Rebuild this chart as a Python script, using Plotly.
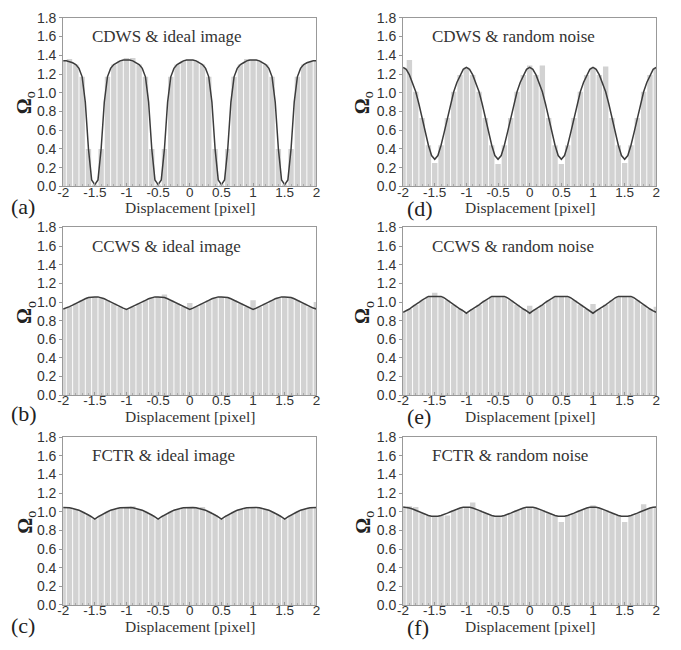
import plotly.graph_objects as go

# Displacement grid (pixel) for the curves, and bar positions
DISP = [round(-2 + 0.05 * i, 2) for i in range(81)]
BAR_X = DISP[::2]
X_TICKS = [-2, -1.5, -1, -0.5, 0, 0.5, 1, 1.5, 2]
X_TICK_TEXT = ["-2", "-1.5", "-1", "-0.5", "0", "0.5", "1", "1.5", "2"]
Y_TICKS = [0.0, 0.2, 0.4, 0.6, 0.8, 1.0, 1.2, 1.4, 1.6, 1.8]

# (a) CDWS & ideal image
LINE_A = [1.34, 1.34, 1.33, 1.32, 1.30, 1.26, 1.17, 0.90, 0.40, 0.07,
          0.02, 0.07, 0.40, 0.90, 1.17, 1.26, 1.30, 1.32, 1.34, 1.35,
          1.35, 1.35, 1.34, 1.32, 1.30, 1.26, 1.17, 0.90, 0.40, 0.07,
          0.02, 0.07, 0.40, 0.90, 1.17, 1.26, 1.30, 1.32, 1.34, 1.35,
          1.35, 1.35, 1.34, 1.32, 1.30, 1.26, 1.17, 0.90, 0.40, 0.07,
          0.02, 0.07, 0.40, 0.90, 1.17, 1.26, 1.30, 1.32, 1.34, 1.35,
          1.35, 1.35, 1.34, 1.32, 1.30, 1.26, 1.17, 0.90, 0.40, 0.07,
          0.02, 0.07, 0.40, 0.90, 1.17, 1.26, 1.30, 1.32, 1.33, 1.34,
          1.34]
BAR_OUT_A = {-1.9: 1.36, -1.0: 1.37, -0.9: 1.37, 0.9: 1.36}

# (d) CDWS & random noise
LINE_D = [1.27, 1.25, 1.19, 1.11, 1.01, 0.88, 0.73, 0.58, 0.44, 0.33,
          0.29, 0.33, 0.44, 0.58, 0.73, 0.88, 1.01, 1.11, 1.19, 1.25,
          1.27, 1.25, 1.19, 1.11, 1.01, 0.88, 0.73, 0.58, 0.44, 0.33,
          0.29, 0.33, 0.44, 0.58, 0.73, 0.88, 1.01, 1.11, 1.19, 1.25,
          1.27, 1.25, 1.19, 1.11, 1.01, 0.88, 0.73, 0.58, 0.44, 0.33,
          0.29, 0.33, 0.44, 0.58, 0.73, 0.88, 1.01, 1.11, 1.19, 1.25,
          1.27, 1.25, 1.19, 1.11, 1.01, 0.88, 0.73, 0.58, 0.44, 0.33,
          0.29, 0.33, 0.44, 0.58, 0.73, 0.88, 1.01, 1.11, 1.19, 1.25,
          1.27]
BAR_OUT_D = {-1.9: 1.35, -1.5: 0.25, -0.5: 0.24, 0.5: 0.24, 1.5: 0.25,
             0.0: 1.29, 0.2: 1.29, 1.2: 1.28}

# (b) CCWS & ideal image
LINE_B = [0.925, 0.935, 0.95, 0.967, 0.985, 1.0, 1.018, 1.035, 1.048, 1.055,
          1.055, 1.055, 1.048, 1.035, 1.018, 1.0, 0.985, 0.967, 0.95, 0.935,
          0.92, 0.935, 0.95, 0.967, 0.985, 1.0, 1.018, 1.035, 1.048, 1.055,
          1.055, 1.055, 1.048, 1.035, 1.018, 1.0, 0.985, 0.967, 0.95, 0.935,
          0.92, 0.935, 0.95, 0.967, 0.985, 1.0, 1.018, 1.035, 1.048, 1.055,
          1.055, 1.055, 1.048, 1.035, 1.018, 1.0, 0.985, 0.967, 0.95, 0.935,
          0.92, 0.935, 0.95, 0.967, 0.985, 1.0, 1.018, 1.035, 1.048, 1.055,
          1.055, 1.055, 1.048, 1.035, 1.018, 1.0, 0.985, 0.967, 0.95, 0.935,
          0.925]
BAR_OUT_B = {-0.4: 1.08, 0.0: 0.99, 1.0: 1.02, 2.0: 1.0}

# (e) CCWS & random noise
LINE_E = [0.89, 0.905, 0.925, 0.95, 0.97, 0.995, 1.02, 1.045, 1.06, 1.06,
          1.06, 1.06, 1.06, 1.045, 1.02, 0.995, 0.97, 0.95, 0.925, 0.905,
          0.88, 0.905, 0.925, 0.95, 0.97, 0.995, 1.02, 1.045, 1.06, 1.06,
          1.06, 1.06, 1.06, 1.045, 1.02, 0.995, 0.97, 0.95, 0.925, 0.905,
          0.88, 0.905, 0.925, 0.95, 0.97, 0.995, 1.02, 1.045, 1.06, 1.06,
          1.06, 1.06, 1.06, 1.045, 1.02, 0.995, 0.97, 0.95, 0.925, 0.905,
          0.88, 0.905, 0.925, 0.95, 0.97, 0.995, 1.02, 1.045, 1.06, 1.06,
          1.06, 1.06, 1.06, 1.045, 1.02, 0.995, 0.97, 0.95, 0.925, 0.905,
          0.89]
BAR_OUT_E = {-1.5: 1.10, 0.0: 0.96, 1.0: 0.98, 2.0: 0.95}

# (c) FCTR & ideal image
LINE_C = [1.045, 1.045, 1.042, 1.035, 1.027, 1.015, 1.0, 0.985, 0.965, 0.945,
          0.92, 0.945, 0.965, 0.985, 1.0, 1.015, 1.027, 1.035, 1.042, 1.045,
          1.045, 1.045, 1.042, 1.035, 1.027, 1.015, 1.0, 0.985, 0.965, 0.945,
          0.92, 0.945, 0.965, 0.985, 1.0, 1.015, 1.027, 1.035, 1.042, 1.045,
          1.045, 1.045, 1.042, 1.035, 1.027, 1.015, 1.0, 0.985, 0.965, 0.945,
          0.92, 0.945, 0.965, 0.985, 1.0, 1.015, 1.027, 1.035, 1.042, 1.045,
          1.045, 1.045, 1.042, 1.035, 1.027, 1.015, 1.0, 0.985, 0.965, 0.945,
          0.92, 0.945, 0.965, 0.985, 1.0, 1.015, 1.027, 1.035, 1.042, 1.045,
          1.045]
BAR_OUT_C = {-0.9: 1.06, 0.2: 1.05}

# (f) FCTR & random noise
LINE_F = [1.05, 1.047, 1.04, 1.03, 1.015, 1.0, 0.985, 0.97, 0.96, 0.952,
          0.95, 0.952, 0.96, 0.97, 0.985, 1.0, 1.015, 1.03, 1.04, 1.047,
          1.05, 1.047, 1.04, 1.03, 1.015, 1.0, 0.985, 0.97, 0.96, 0.952,
          0.95, 0.952, 0.96, 0.97, 0.985, 1.0, 1.015, 1.03, 1.04, 1.047,
          1.05, 1.047, 1.04, 1.03, 1.015, 1.0, 0.985, 0.97, 0.96, 0.952,
          0.95, 0.952, 0.96, 0.97, 0.985, 1.0, 1.015, 1.03, 1.04, 1.047,
          1.05, 1.047, 1.04, 1.03, 1.015, 1.0, 0.985, 0.97, 0.96, 0.952,
          0.95, 0.952, 0.96, 0.97, 0.985, 1.0, 1.015, 1.03, 1.04, 1.047,
          1.05]
BAR_OUT_F = {-1.9: 1.06, -1.8: 1.05, -1.3: 0.96, -0.9: 1.10, 0.5: 0.89,
             1.0: 1.07, 1.5: 0.89, 1.8: 1.08}

TITLES = ["CDWS & ideal image", "CDWS & random noise",
          "CCWS & ideal image", "CCWS & random noise",
          "FCTR & ideal image", "FCTR & random noise"]
LABELS = ["(a)", "(d)", "(b)", "(e)", "(c)", "(f)"]
LINES = [LINE_A, LINE_D, LINE_B, LINE_E, LINE_C, LINE_F]
OUTS = [BAR_OUT_A, BAR_OUT_D, BAR_OUT_B, BAR_OUT_E, BAR_OUT_C, BAR_OUT_F]

W, H = 681, 650
# plot areas in pixels: (left, right) per column, (top, bottom) per row
COLS = [(58, 315), (403, 660)]
ROWS = [(10, 183), (225, 397), (440, 612)]
LABEL_X = [3, 405]
LABEL_DY = [[20, 23], [19, 22], [21, 23]]
OMEGA_X = [20, 363]

SERIF = "Liberation Serif, Times New Roman, serif"
SANS = "Liberation Sans, Arial, sans-serif"
TXT = "#333333"

fig = go.Figure()
layout = dict(width=W, height=H, margin=dict(l=0, r=0, t=0, b=0),
              paper_bgcolor="white", plot_bgcolor="white", showlegend=False)
annotations = []

for k in range(6):
    row, col = k // 2, k % 2
    n = k + 1
    xa = "x" if n == 1 else f"x{n}"
    ya = "y" if n == 1 else f"y{n}"
    line = LINES[k]
    bars = [OUTS[k].get(x, v) for x, v in zip(BAR_X, line[::2])]
    fig.add_trace(go.Bar(x=BAR_X, y=bars, xaxis=xa, yaxis=ya, width=0.085,
                         marker=dict(color="#d2d2d2", line=dict(width=0))))
    fig.add_trace(go.Scatter(x=DISP, y=line, xaxis=xa, yaxis=ya, mode="lines",
                             line=dict(color="#3c3c3c", width=1.5)))
    l, r = COLS[col]
    t, b = ROWS[row]
    xkey = "xaxis" if n == 1 else f"xaxis{n}"
    ykey = "yaxis" if n == 1 else f"yaxis{n}"
    layout[xkey] = dict(domain=[l / W, r / W], anchor=ya, range=[-2, 2],
                        tickvals=X_TICKS, ticktext=X_TICK_TEXT,
                        ticks="inside", ticklen=3, tickcolor="#999",
                        ticklabelstandoff=-7,
                        minor=dict(dtick=0.1, ticks="inside", ticklen=2, tickcolor="#aaa"),
                        showgrid=False, zeroline=False, showline=True,
                        mirror=True, linecolor="#999", linewidth=1,
                        tickfont=dict(family=SANS, size=13.5, color=TXT))
    layout[ykey] = dict(domain=[1 - b / H, 1 - t / H], anchor=xa, range=[0, 1.8],
                        tickvals=Y_TICKS, tickformat=".1f",
                        ticks="outside", ticklen=3, tickcolor="#999",
                        showgrid=False, zeroline=False, showline=True,
                        mirror=True, linecolor="#999", linewidth=1,
                        tickfont=dict(family=SANS, size=14, color=TXT))
    # panel title inside the plot
    annotations.append(dict(x=-1.58, y=1.6, xref=xa, yref=ya, text=TITLES[k],
                            showarrow=False, xanchor="left", yanchor="middle",
                            font=dict(family=SERIF, size=17, color=TXT)))
    # x axis title
    annotations.append(dict(x=(l + r) / 2 / W, y=1 - (b + 22) / H, xref="paper", yref="paper",
                            text="Displacement [pixel]", showarrow=False,
                            xanchor="center", yanchor="middle",
                            font=dict(family=SERIF, size=15.5, color=TXT)))
    # panel letter
    annotations.append(dict(x=LABEL_X[col] / W, y=1 - (b + LABEL_DY[row][col]) / H,
                            xref="paper", yref="paper", text=LABELS[k],
                            showarrow=False, xanchor="left", yanchor="middle",
                            font=dict(family=SERIF, size=22, color="#222")))
    # y axis title Omega_o
    annotations.append(dict(x=OMEGA_X[col] / W, y=1 - (t + 87) / H,
                            xref="paper", yref="paper", text="<b>Ω</b><sub>o</sub>",
                            textangle=-90, showarrow=False,
                            xanchor="center", yanchor="middle",
                            font=dict(family=SERIF, size=20, color="#222")))

layout["annotations"] = annotations
fig.update_layout(**layout)
fig.write_html("out.html")
